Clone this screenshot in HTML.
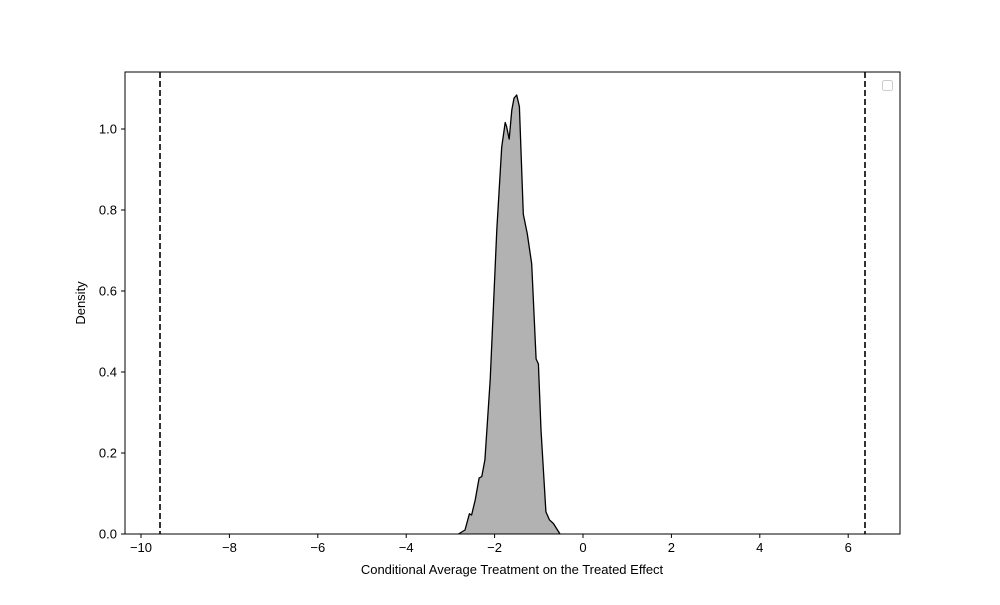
<!DOCTYPE html>
<html><head><meta charset="utf-8"><style>
body{margin:0;background:#fff}
svg text{font-family:"Liberation Sans","DejaVu Sans",sans-serif;font-size:13px;fill:#000}
</style></head><body>
<svg id="chart" width="1000" height="600">
<rect x="0" y="0" width="1000" height="600" fill="#fff"/>
<g id="plot"></g>
<rect x="125" y="72" width="775" height="462" fill="none" stroke="#000" stroke-width="1"/>
<rect x="882.5" y="80.5" width="10" height="10" rx="2" fill="#fff" stroke="#ccc"/>
<text x="512" y="574" text-anchor="middle">Conditional Average Treatment on the Treated Effect</text>
<text transform="translate(85,303) rotate(-90)" text-anchor="middle">Density</text>
</svg>
<script>
const xsData=[-2.82,-2.67,-2.57,-2.52,-2.44,-2.35,-2.29,-2.22,-2.10,-1.95,-1.84,-1.76,-1.73,-1.67,-1.61,-1.56,-1.50,-1.44,-1.35,-1.26,-1.16,-1.06,-1.01,-0.95,-0.84,-0.76,-0.67,-0.52];
const densities=[0,0.01,0.05,0.047,0.084,0.138,0.142,0.183,0.381,0.751,0.955,1.016,1.007,0.975,1.047,1.076,1.084,1.055,0.790,0.741,0.667,0.432,0.420,0.257,0.055,0.035,0.026,0];
const vlines=[-9.57,6.38];
const xTicks=[-10,-8,-6,-4,-2,0,2,4,6];
const yTicks=[0,0.2,0.4,0.6,0.8,1.0];
const X=v=>583+v*44.2, Y=v=>534-v*405;
const NS="http://www.w3.org/2000/svg", g=document.getElementById('plot');
function mk(t,a){const e=document.createElementNS(NS,t);for(const k in a)e.setAttribute(k,a[k]);g.appendChild(e);return e;}
let d='M'+X(xsData[0])+','+Y(0);
xsData.forEach((x,i)=>{d+=' L'+X(x).toFixed(1)+','+Y(densities[i]).toFixed(1);});
const area=mk('path',{d:d+' Z',fill:'#b2b2b2',stroke:'none'});


const line=mk('path',{d:d,fill:'none',stroke:'#000','stroke-width':1.3,'stroke-linejoin':'round'});


vlines.forEach(v=>{const l=mk('line',{x1:X(v),x2:X(v),y1:72,y2:534,stroke:'#000','stroke-width':1.6,'stroke-dasharray':'6,3'});

});
xTicks.forEach(t=>{mk('line',{x1:X(t),x2:X(t),y1:534,y2:538,stroke:'#000'});
const tx=mk('text',{x:X(t),y:552,'text-anchor':'middle'});tx.textContent=(t<0?'\u2212'+(-t):t);

});
yTicks.forEach(t=>{mk('line',{x1:121,x2:125,y1:Y(t),y2:Y(t),stroke:'#000'});
const tx=mk('text',{x:117,y:Y(t)+4.5,'text-anchor':'end'});tx.textContent=t.toFixed(1);

});
</script>
</body></html>
